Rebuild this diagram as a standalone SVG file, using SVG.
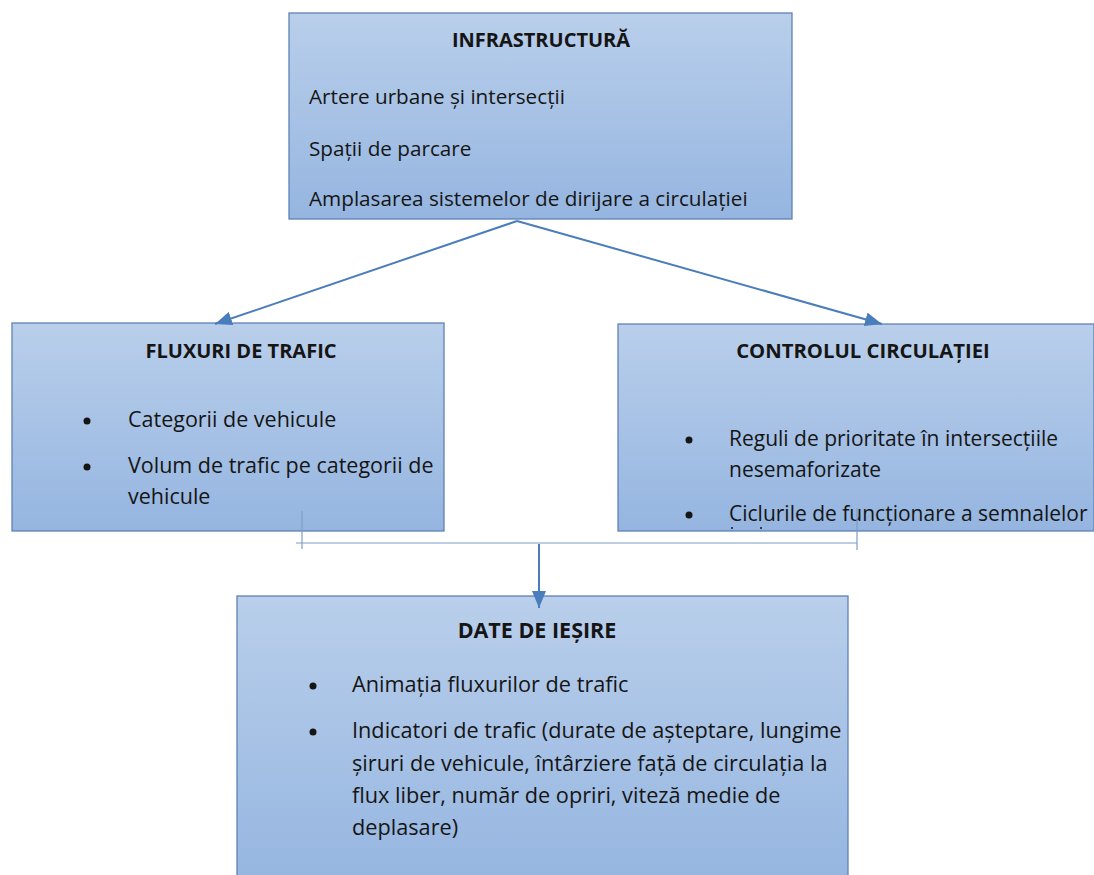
<svg xmlns="http://www.w3.org/2000/svg" width="1094" height="875" viewBox="0 0 1094 875">
<style>
.box{fill:url(#g);stroke:#5f82b4;stroke-width:1.3}
.t{font-family:"Open Sans","Liberation Sans",sans-serif;fill:#151515}
.h{font-family:"Open Sans","Liberation Sans",sans-serif;font-weight:bold;fill:#151515;text-anchor:middle}
.b{fill:#151515}
.arr{stroke:#4a7dbb;stroke-width:2;fill:none}
.br{stroke:#7f9dc6;stroke-width:1.2;fill:none}
</style>
<defs>
<linearGradient id="g" x1="0" y1="0" x2="0" y2="1">
<stop offset="0" stop-color="#b9cfeb"/>
<stop offset="1" stop-color="#95b5e0"/>
</linearGradient>
<marker id="ah" markerUnits="userSpaceOnUse" markerWidth="18" markerHeight="14" refX="17" refY="7" orient="auto">
<path d="M0,0 L17,7 L0,14 z" fill="#4a7dbb"/>
</marker>
</defs>
<rect width="1094" height="875" fill="#ffffff"/>
<g id="infrastructura">
<rect class="box" x="289" y="13" width="503" height="206"/>
<text class="h" x="541" y="47" font-size="20">INFRASTRUCTURĂ</text>
<g class="t" font-size="20.7">
<text x="309" y="104">Artere urbane și intersecții</text>
<text x="309" y="156">Spații de parcare</text>
<text x="309" y="206">Amplasarea sistemelor de dirijare a circulației</text>
</g>
</g>
<g id="fluxuri">
<rect class="box" x="12" y="323" width="432" height="208"/>
<text class="h" x="241" y="358" font-size="20">FLUXURI DE TRAFIC</text>
<circle class="b" cx="87" cy="421" r="3.5"/>
<circle class="b" cx="87" cy="467" r="3.5"/>
<g class="t" font-size="21.5">
<text x="128" y="427">Categorii de vehicule</text>
<text x="128" y="473">Volum de trafic pe categorii de</text>
<text x="128" y="504">vehicule</text>
</g>
</g>
<g id="control">
<rect class="box" x="618" y="324" width="476" height="207"/>
<text class="h" x="863" y="358" font-size="20.3">CONTROLUL CIRCULAȚIEI</text>
<circle class="b" cx="689" cy="440" r="3.5"/>
<circle class="b" cx="689" cy="515" r="3.5"/>
<g class="t" font-size="21">
<text x="729" y="446">Reguli de prioritate în intersecțiile</text>
<text x="729" y="477">nesemaforizate</text>
<text x="729" y="521">Ciclurile de funcționare a semnalelor</text>
</g>
<circle class="b" cx="732" cy="528" r="1"/>
<circle class="b" cx="761" cy="528" r="1"/>
</g>
<g id="date">
<rect class="box" x="237" y="596" width="611" height="290"/>
<text class="h" x="537" y="638" font-size="21.5">DATE DE IEȘIRE</text>
<circle class="b" cx="313" cy="686" r="3.5"/>
<circle class="b" cx="313" cy="732" r="3.5"/>
<g class="t" font-size="21.7">
<text x="352" y="692">Animația fluxurilor de trafic</text>
<text x="352" y="738">Indicatori de trafic (durate de așteptare, lungime</text>
<text x="352" y="771">șiruri de vehicule, întârziere față de circulația la</text>
<text x="352" y="803">flux liber, număr de opriri, viteză medie de</text>
<text x="352" y="835">deplasare)</text>
</g>
</g>
<g id="connectors">
<line class="arr" x1="517" y1="221" x2="215" y2="324" marker-end="url(#ah)"/>
<line class="arr" x1="517" y1="221" x2="882" y2="324" marker-end="url(#ah)"/>
<line class="br" x1="302" y1="511" x2="302" y2="549"/>
<line class="br" x1="857" y1="508" x2="857" y2="550"/>
<line class="br" x1="296" y1="543" x2="857" y2="543"/>
<line class="arr" x1="539" y1="544" x2="539" y2="608" stroke-width="1.6" marker-end="url(#ah)"/>
</g>
</svg>
